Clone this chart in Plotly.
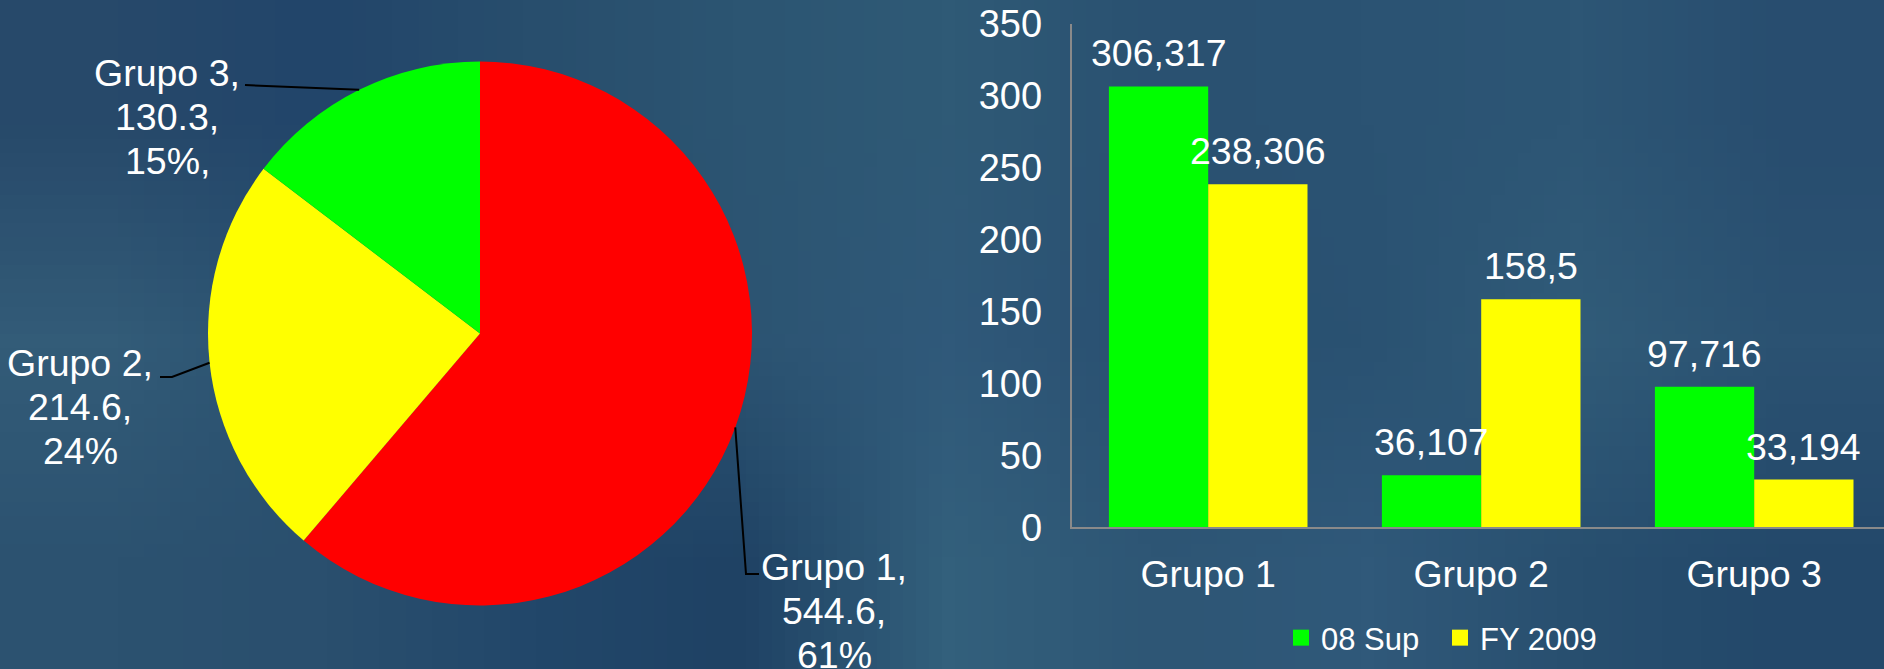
import base64
import math
import struct
import zlib

import plotly.graph_objects as go

# ---------------- data ----------------
pie_labels = ["Grupo 1", "Grupo 2", "Grupo 3"]
pie_values = [544.6, 214.6, 130.3]
pie_colors = ["#FF0000", "#FFFF00", "#00FF00"]

bar_categories = ["Grupo 1", "Grupo 2", "Grupo 3"]
series_names = ["08 Sup", "FY 2009"]
sup08_values = [306.317, 36.107, 97.716]
fy2009_values = [238.306, 158.5, 33.194]
series_colors = ["#00FF00", "#FFFF00"]
y_tick_values = [0, 50, 100, 150, 200, 250, 300, 350]

# ---------------- page geometry ----------------
W, H = 1884, 669
FONT = "Arial, Liberation Sans, sans-serif"
WHITE = "#FFFFFF"
FS = 37.5


def px_x(x):
    return x / W


def px_y(y):
    return 1 - y / H


# ---------------- background gradient (small PNG, stretched) ----------------
bg_rows = [
    ["#27496a", "#22456a", "#284e6d", "#2c5572", "#2f5a76", "#2a5171", "#2b5373", "#2d5675", "#284d6f"],
    ["#335c78", "#2a5170", "#24496b", "#2c5472", "#30597a", "#294f70", "#2a5272", "#315c79", "#2b5272"],
    ["#2c5270", "#2a4f6e", "#22476a", "#1f4264", "#33607c", "#2e5675", "#30597a", "#284f6f", "#23486a"],
]


def make_png(rows):
    h = len(rows)
    w = len(rows[0])
    raw = b""
    for r in rows:
        raw += b"\x00"
        for c in r:
            raw += bytes(int(c[i:i + 2], 16) for i in (1, 3, 5))

    def chunk(tag, data):
        return (struct.pack(">I", len(data)) + tag + data
                + struct.pack(">I", zlib.crc32(tag + data) & 0xFFFFFFFF))

    png = b"\x89PNG\r\n\x1a\n"
    png += chunk(b"IHDR", struct.pack(">IIBBBBB", w, h, 8, 2, 0, 0, 0))
    png += chunk(b"IDAT", zlib.compress(raw))
    png += chunk(b"IEND", b"")
    return "data:image/png;base64," + base64.b64encode(png).decode()


fig = go.Figure()

# ---------------- pie ----------------
pie_cx, pie_cy, pie_r = 480, 333.5, 272
fig.add_trace(go.Pie(
    labels=pie_labels,
    values=pie_values,
    marker=dict(colors=pie_colors, line=dict(width=0)),
    sort=False,
    direction="clockwise",
    rotation=0,
    textinfo="none",
    showlegend=False,
    domain=dict(x=[px_x(pie_cx - pie_r), px_x(pie_cx + pie_r)],
                y=[px_y(pie_cy + pie_r), px_y(pie_cy - pie_r)]),
))

# pie labels (one annotation per line) + leader lines to mid-angle of slices
total = sum(pie_values)
label_anchor = {  # centre x, first-line centre y
    "Grupo 1": (834, 567),
    "Grupo 2": (80, 363),
    "Grupo 3": (167, 73),
}
leader_start = {
    "Grupo 1": [(759, 574), (746, 574)],
    "Grupo 2": [(160, 377), (172, 377)],
    "Grupo 3": [(245, 85)],
}
LINE_STEP = 43.8
annotations = []
shapes = []
cum = 0.0
for i, (lab, val) in enumerate(zip(pie_labels, pie_values)):
    frac = val / total
    mid = (cum + frac / 2) * 2 * math.pi
    cum += frac
    ex = pie_cx + pie_r * math.sin(mid)
    ey = pie_cy - pie_r * math.cos(mid)
    pct = f"{round(frac * 100):d}%"
    lines = [f"{lab},", f"{val:.1f},", pct + ("," if i == 2 else "")]
    ax, ay = label_anchor[lab]
    for k, t in enumerate(lines):
        annotations.append(dict(
            text=t, x=px_x(ax), y=px_y(ay + k * LINE_STEP), xref="paper", yref="paper",
            xanchor="center", yanchor="middle", showarrow=False,
            font=dict(family=FONT, size=FS, color=WHITE),
        ))
    pts = leader_start[lab] + [(ex, ey)]
    path = "M " + " L ".join(f"{px_x(x)},{px_y(y)}" for x, y in pts)
    shapes.append(dict(type="path", path=path, xref="paper", yref="paper",
                       line=dict(color="#000000", width=2)))

# ---------------- bars ----------------
for name, vals, col in zip(series_names, [sup08_values, fy2009_values], series_colors):
    fig.add_trace(go.Bar(
        name=name, x=bar_categories, y=vals,
        marker=dict(color=col, line=dict(width=0)),
        showlegend=False, xaxis="x", yaxis="y",
    ))
    # legend proxy with bigger square swatches
    fig.add_trace(go.Scatter(
        name=name, x=[None], y=[None], mode="markers",
        marker=dict(symbol="square", size=17, color=col),
        showlegend=True, xaxis="x", yaxis="y",
    ))

BARGAP = 0.2725
bar_w = (1 - BARGAP) / len(series_names)
for s, vals in enumerate([sup08_values, fy2009_values]):
    off = (s - (len(series_names) - 1) / 2) * bar_w
    for i, v in enumerate(vals):
        annotations.append(dict(
            text=str(v).replace(".", ","), x=i + off, y=v, xref="x", yref="y",
            xanchor="center", yanchor="middle", yshift=33, showarrow=False,
            font=dict(family=FONT, size=FS, color=WHITE),
        ))

x0 = 1071.7
fig.update_layout(
    width=W, height=H,
    margin=dict(l=0, r=0, t=0, b=0),
    paper_bgcolor="#2a4f6f",
    plot_bgcolor="rgba(0,0,0,0)",
    font=dict(family=FONT, color=WHITE, size=FS),
    barmode="group", bargap=BARGAP, bargroupgap=0,
    xaxis=dict(domain=[px_x(x0), 1], range=[-0.5, -0.5 + (W - x0) / 273.0],
               type="category", showline=True, linecolor="#8a8a8a", linewidth=2,
               showgrid=False, zeroline=False, ticks="", automargin=False,
               tickfont=dict(size=FS, color=WHITE), ticklabelstandoff=13,
               fixedrange=True),
    yaxis=dict(domain=[px_y(527.3), px_y(23.5)], range=[0, 350],
               tickvals=y_tick_values, showline=True, linecolor="#8a8a8a", linewidth=2,
               showgrid=False, zeroline=False, ticks="", automargin=False,
               tickfont=dict(size=38, color=WHITE), ticklabelstandoff=20,
               fixedrange=True),
    legend=dict(orientation="h", x=px_x(1281), xanchor="left", y=px_y(638),
                yanchor="middle", font=dict(size=31, color=WHITE, family=FONT),
                bgcolor="rgba(0,0,0,0)", itemwidth=30,
                entrywidthmode="pixels", entrywidth=114),
    annotations=annotations,
    shapes=shapes,
    images=[dict(source=make_png(bg_rows), xref="paper", yref="paper", x=0, y=1,
                 sizex=1, sizey=1, sizing="stretch", layer="below", xanchor="left",
                 yanchor="top")],
)

fig.write_html(
    "out.html",
    config={"displayModeBar": False},
    post_script="document.body.style.margin='0px';document.body.style.overflow='hidden';",
)
